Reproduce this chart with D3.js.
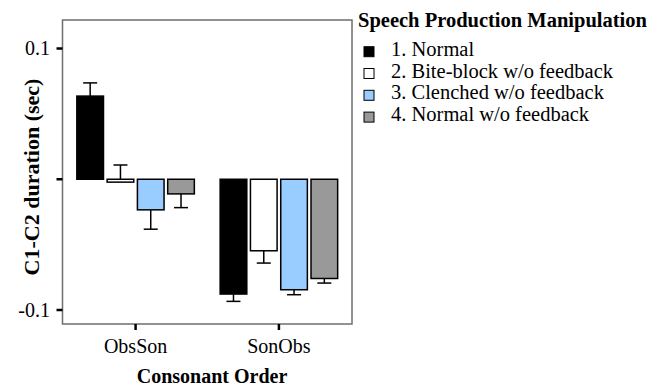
<!DOCTYPE html>
<html>
<head>
<meta charset="utf-8">
<script src="https://cdn.jsdelivr.net/npm/d3@7"></script>
<style>
  body { margin: 0; background: #fff; }
  text { font-family: "Liberation Serif", "Times New Roman", serif; fill: #000; }
</style>
</head>
<body>
<svg id="chart" width="667" height="387"></svg>
<script>
// data
var groups = ["ObsSon", "SonObs"];
var series = ["1. Normal", "2. Bite-block w/o feedback", "3. Clenched w/o feedback", "4. Normal w/o feedback"];
var colors = ["#000000", "#ffffff", "#99ccff", "#999999"];
// bar values (sec), one list per group
var obsSonValues = [0.0636, -0.0022, -0.0234, -0.0112];
var sonObsValues = [-0.0878, -0.0547, -0.0845, -0.0759];
// tip of each error bar (sec)
var obsSonWhiskers = [0.0737, 0.0109, -0.0382, -0.0217];
var sonObsWhiskers = [-0.0934, -0.0641, -0.0883, -0.0794];
var yTicks = [0.1, 0, -0.1];
var yTickLabels = ["0.1", "", "-0.1"];

var svg = d3.select("#chart");

// plot frame (note: "top" is reserved on window, so use other names)
var frameL = 62.5, frameR = 352, frameT = 20, frameB = 324;

var x = d3.scalePoint()
    .domain(groups)
    .range([frameL, frameR])
    .padding(0.51);

var xInner = d3.scaleBand()
    .domain(series)
    .range([-58.75, 58.75])
    .paddingInner(0.12)
    .paddingOuter(0);

var y = d3.scaleLinear()
    .domain([-0.1, 0.1])
    .range([310, 48.5]);

var rows = [];
groups.forEach(function (g, gi) {
    var vals = gi == 0 ? obsSonValues : sonObsValues;
    var whisk = gi == 0 ? obsSonWhiskers : sonObsWhiskers;
    series.forEach(function (s, si) {
        rows.push({ group: g, series: s, color: colors[si], v: vals[si], w: whisk[si] });
    });
});

function midX(d) { return x(d.group) + xInner(d.series) + xInner.bandwidth() / 2 }

// error bars first so the bars sit on top
var err = svg.append("g").attr("stroke", "#000").attr("stroke-width", 1.5);
err.selectAll("line.stem")
    .data(rows)
    .enter()
    .append("line")
    .attr("x1", midX)
    .attr("x2", midX)
    .attr("y1", function (d) { return y(d.v) })
    .attr("y2", function (d) { return y(d.w) });
err.selectAll("line.cap")
    .data(rows)
    .enter()
    .append("line")
    .attr("x1", function (d) { return midX(d) - 7 })
    .attr("x2", function (d) { return midX(d) + 7 })
    .attr("y1", function (d) { return y(d.w) })
    .attr("y2", function (d) { return y(d.w) });

// bars
svg.append("g")
    .selectAll("rect")
    .data(rows)
    .enter()
    .append("rect")
    .attr("x", function (d) { return x(d.group) + xInner(d.series) })
    .attr("width", xInner.bandwidth())
    .attr("y", function (d) { return Math.min(y(0), y(d.v)) })
    .attr("height", function (d) { return Math.abs(y(d.v) - y(0)) })
    .attr("fill", function (d) { return d.color })
    .attr("stroke", "#000")
    .attr("stroke-width", 1.5);

// frame
svg.append("rect")
    .attr("x", frameL)
    .attr("y", frameT)
    .attr("width", frameR - frameL)
    .attr("height", frameB - frameT)
    .attr("fill", "none")
    .attr("stroke", "#6e6e6e")
    .attr("stroke-width", 1.5);

// y axis ticks
var yAxis = svg.append("g");
yAxis.selectAll("line")
    .data(yTicks)
    .enter()
    .append("line")
    .attr("x1", frameL - 6)
    .attr("x2", frameL)
    .attr("y1", function (d) { return y(d) })
    .attr("y2", function (d) { return y(d) })
    .attr("stroke", "#000")
    .attr("stroke-width", 2.5);
yAxis.selectAll("text")
    .data(yTicks)
    .enter()
    .append("text")
    .attr("x", 50)
    .attr("y", function (d) { return y(d) + 6.5 })
    .attr("text-anchor", "end")
    .style("font-size", "20px")
    .text(function (d, i) { return yTickLabels[i] });

// x axis ticks
var xAxis = svg.append("g");
xAxis.selectAll("line")
    .data(groups)
    .enter()
    .append("line")
    .attr("x1", function (d) { return x(d) })
    .attr("x2", function (d) { return x(d) })
    .attr("y1", frameB)
    .attr("y2", frameB + 6)
    .attr("stroke", "#000")
    .attr("stroke-width", 2.5);
xAxis.selectAll("text")
    .data(groups)
    .enter()
    .append("text")
    .attr("x", function (d) { return x(d) })
    .attr("y", 353)
    .attr("text-anchor", "middle")
    .style("font-size", "20px")
    .text(function (d) { return d });

// axis titles
svg.append("text")
    .attr("x", 212)
    .attr("y", 383)
    .attr("text-anchor", "middle")
    .style("font-size", "20px")
    .style("font-weight", "bold")
    .text("Consonant Order");

svg.append("text")
    .attr("transform", "translate(39,177) rotate(-90)")
    .attr("text-anchor", "middle")
    .style("font-size", "22px")
    .style("font-weight", "bold")
    .text("C1-C2 duration (sec)");

// legend
var legend = svg.append("g").attr("transform", "translate(358,0)");
legend.append("text")
    .attr("x", 0)
    .attr("y", 26.5)
    .style("font-size", "20.5px")
    .style("font-weight", "bold")
    .text("Speech Production Manipulation");
var item = legend.selectAll("g.item")
    .data(series)
    .enter()
    .append("g")
    .attr("transform", function (d, i) { return "translate(0," + (51.7 + i * 21.8) + ")" });
item.append("rect")
    .attr("x", 6)
    .attr("y", -5)
    .attr("width", 10)
    .attr("height", 10)
    .attr("fill", function (d, i) { return colors[i] })
    .attr("stroke", "#000")
    .attr("stroke-width", 1);
item.append("text")
    .attr("x", 33)
    .attr("y", 4)
    .style("font-size", "20.5px")
    .text(function (d) { return d });
</script>
</body>
</html>
